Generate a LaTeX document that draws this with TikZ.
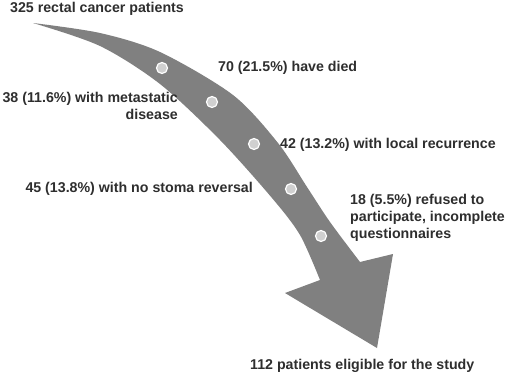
\documentclass[tikz,border=0pt]{standalone}
\usepackage{fontspec}
\setmainfont{Liberation Sans}
\usetikzlibrary{backgrounds}
\definecolor{arrowgray}{HTML}{808080}
\definecolor{dotgray}{HTML}{D0D0D0}
\definecolor{textgray}{HTML}{2E2E2E}

\begin{document}
\begin{tikzpicture}[x=1pt, y=-1pt,
    background rectangle/.style={fill=white},
    show background rectangle, inner frame sep=0pt,
    label text/.style={font=\fontsize{14.2}{17}\selectfont\bfseries, text=textgray, inner sep=0pt},
    stage dot/.style={circle, fill=dotgray, draw=white, line width=1.2pt, minimum size=11pt, inner sep=0pt}]
    \useasboundingbox (0,0) rectangle (508,375);

    % Define the corners of the arrow head
    \coordinate (tail) at (33,23);
    \coordinate (outer) at (360,262);
    \coordinate (barbR) at (393,254);
    \coordinate (tip) at (377,348);
    \coordinate (barbL) at (285,293);
    \coordinate (inner) at (320,280);

    % Draw the curved arrow
    \fill[arrowgray] (tail)
      -- plot[smooth] coordinates {(33,23) (100,33) (160,52) (233,95) (278,143) (307,187) (330,222) (360,262)}
      -- (barbR) -- (tip) -- (barbL) -- (inner)
      -- plot[smooth] coordinates {(320,280) (300,235) (272,198) (220,140) (160,84) (100,46) (33,23)}
      -- cycle;

    % Place the dots along the arrow
    \node[stage dot] (d1) at (162,68) {};
    \node[stage dot] (d2) at (212,102) {};
    \node[stage dot] (d3) at (254,144) {};
    \node[stage dot] (d4) at (291,189) {};
    \node[stage dot] (d5) at (321,236) {};

    % Label the stages
    \node[label text, anchor=base west] (total) at (10,12.5) {325 rectal cancer patients};
    \node[label text, anchor=base west] (died) at (218,71) {70 (21.5\%) have died};
    \node[label text, anchor=north east, align=right] (metastatic) at (178,92.5) {38 (11.6\%) with metastatic\\disease};
    \node[label text, anchor=base west] (recurrence) at (280,148.5) {42 (13.2\%) with local recurrence};
    \node[label text, anchor=base east] (stoma) at (253,192) {45 (13.8\%) with no stoma reversal};
    \node[label text, anchor=north west, align=left] (refused) at (350,194) {18 (5.5\%) refused to\\participate, incomplete\\questionnaires};
    \node[label text, anchor=base west] (eligible) at (250,369) {112 patients eligible for the study};
\end{tikzpicture}
\end{document}
